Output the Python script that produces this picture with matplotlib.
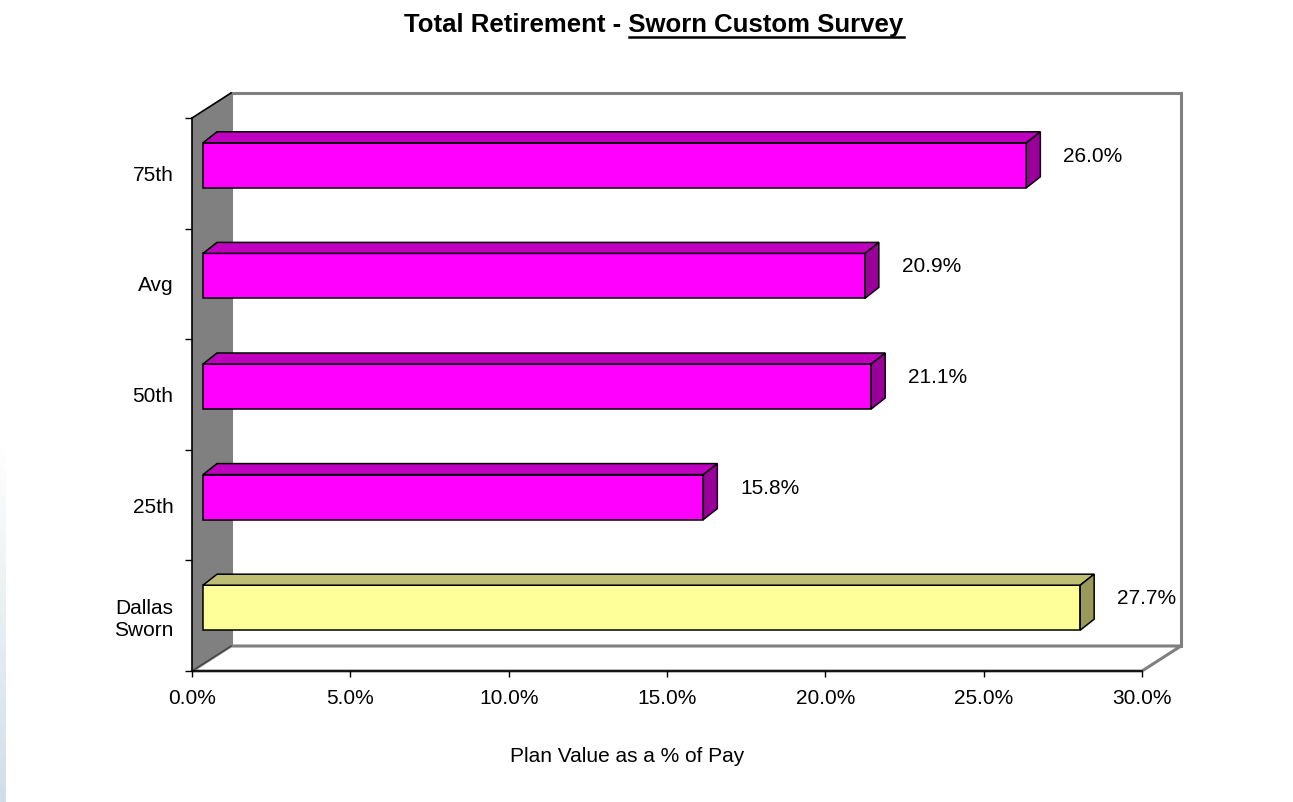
import matplotlib
matplotlib.use("Agg")
import matplotlib.pyplot as plt
import numpy as np
from matplotlib.patches import Polygon, Rectangle
from matplotlib.colors import LinearSegmentedColormap

plt.rcParams['font.family'] = ['Liberation Sans', 'DejaVu Sans']

# Plan values (% of pay), bottom to top
categories = ["Dallas\nSworn", "25th", "50th", "Avg", "75th"]
values = [27.7, 15.8, 21.1, 20.9, 26.0]
x_ticks = [0, 5, 10, 15, 20, 25, 30]

W, H = 1293, 802
fig = plt.figure(figsize=(W / 100, H / 100), dpi=100, facecolor="white")

# faint blue strip at the lower left edge of the slide
grad_ax = fig.add_axes([0, 0, 6 / W, 360 / H])
grad_ax.axis("off")
cmap = LinearSegmentedColormap.from_list("edge", ["#ffffff", "#cfdfe7"])
grad_ax.imshow(np.linspace(0, 1, 100).reshape(-1, 1), aspect="auto", cmap=cmap)

# front plane of the 3-D chart
ax_l, ax_r, ax_t, ax_b = 192, 1142, 118, 671
ax = fig.add_axes([ax_l / W, (H - ax_b) / H, (ax_r - ax_l) / W, (ax_b - ax_t) / H])
ax.set_xlim(0, 30)
ax.set_ylim(-0.5, len(categories) - 0.5)
ax.patch.set_alpha(0)

sx = (ax_r - ax_l) / 30.0              # px per % unit
sy = (ax_b - ax_t) / len(categories)   # px per category

# depth of the walls and of the bars, in data units
DX, DY = 39 / sx, 25 / sy
FX, FY = 11 / sx, 8 / sy
BX, BY = 14 / sx, 11 / sy
bar_h = 45 / sy

y0, y1 = -0.5, len(categories) - 0.5
gray = "#808080"

# back wall
ax.add_patch(Rectangle((DX, y0 + DY), 30, y1 - y0, facecolor="white",
                       edgecolor=gray, lw=2.2, clip_on=False, zorder=0.5))
# floor
ax.add_patch(Polygon([(0, y0), (DX, y0 + DY), (30 + DX, y0 + DY), (30, y0)],
                     closed=True, facecolor="white", edgecolor=gray, lw=2.2,
                     clip_on=False, zorder=0.6))
# side wall
ax.add_patch(Polygon([(0, y0), (DX, y0 + DY), (DX, y1 + DY), (0, y1)],
                     closed=True, facecolor=gray, edgecolor="none",
                     clip_on=False, zorder=0.7))
ax.plot([0, DX], [y1, y1 + DY], color="black", lw=1.2, clip_on=False, zorder=0.8)
ax.plot([0, DX], [y0, y0 + DY], color="#404040", lw=1.0, clip_on=False, zorder=0.8)

front = ["#ffff99"] + ["#ff00ff"] * 4
top = ["#bfbf73"] + ["#bf00bf"] * 4
side = ["#99995c"] + ["#990099"] * 4

ypos = np.arange(len(categories)) + FY
bars = ax.barh(ypos, values, left=FX, height=bar_h, color=front,
               edgecolor="black", lw=1.1, zorder=2)

for rect, v, ct, cs in zip(bars, values, top, side):
    x0, yb = rect.get_x(), rect.get_y()
    x1, yt = x0 + rect.get_width(), yb + rect.get_height()
    ax.add_patch(Polygon([(x0, yt), (x0 + BX, yt + BY), (x1 + BX, yt + BY), (x1, yt)],
                         closed=True, facecolor=ct, edgecolor="black", lw=1.1,
                         clip_on=False, zorder=2))
    ax.add_patch(Polygon([(x1, yb), (x1 + BX, yb + BY), (x1 + BX, yt + BY), (x1, yt)],
                         closed=True, facecolor=cs, edgecolor="black", lw=1.1,
                         clip_on=False, zorder=2))
    ax.annotate(f"{v:.1f}%", xy=(x1 + BX, (yb + yt) / 2), xytext=(23, 3.5),
                textcoords="offset pixels", ha="left", va="baseline",
                fontsize=15, color="black")

# axes
for s in ["top", "right"]:
    ax.spines[s].set_visible(False)
for s in ["left", "bottom"]:
    ax.spines[s].set_color("black")
    ax.spines[s].set_linewidth(1.2)

ax.set_xticks(x_ticks)
ax.set_xticklabels([f"{t:.1f}%" for t in x_ticks], fontsize=15)
ax.tick_params(axis="x", direction="out", length=4, width=1, pad=9)

ax.set_yticks(np.arange(-0.5, len(categories)))
ax.set_yticklabels([])
ax.set_yticks(np.arange(len(categories)), minor=True)
ax.set_yticklabels(categories, minor=True, fontsize=15, multialignment="right")
ax.tick_params(axis="y", which="major", direction="out", length=5, width=1)
ax.tick_params(axis="y", which="minor", length=0, pad=13.5)

fig.text(627 / W, (H - 762) / H, "Plan Value as a % of Pay", ha="center",
         va="baseline", fontsize=15)

# title with the underlined second half
title_full = "Total Retirement - Sworn Custom Survey"
title_sub = "Sworn Custom Survey"
base_y = (H - 32) / H
t = fig.text(654 / W, base_y, title_full, ha="center", va="baseline",
             fontsize=18.5, fontweight="bold")
r = fig.canvas.get_renderer()
bb = t.get_window_extent(r)
tmp = fig.text(0, 0, title_sub, fontsize=18.5, fontweight="bold")
sub_w = tmp.get_window_extent(r).width
tmp.remove()
ul_y = (H - 36.5) / H
fig.add_artist(plt.Line2D([(bb.x1 - sub_w) / W, bb.x1 / W], [ul_y, ul_y],
                          color="black", lw=1.8))

fig.savefig("out.png", dpi=100, facecolor="white")
